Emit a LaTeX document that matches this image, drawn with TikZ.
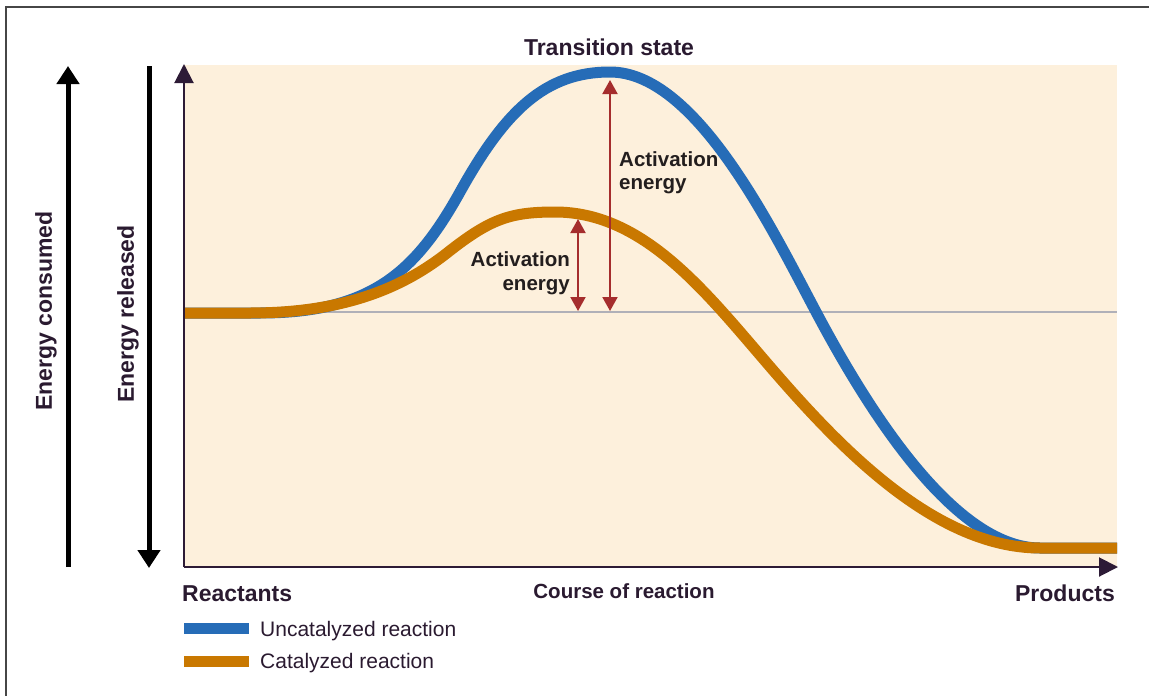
\documentclass[tikz,border=0pt]{standalone}
\usepackage{fontspec}
\setmainfont{Liberation Sans}
\usetikzlibrary{arrows.meta}
\definecolor{axispurple}{RGB}{45,27,54}
\definecolor{curveblue}{RGB}{38,108,183}
\definecolor{curveorange}{RGB}{201,120,0}
\definecolor{beige}{RGB}{253,240,220}
\definecolor{arrowred}{RGB}{165,45,45}
\definecolor{textdark}{RGB}{42,26,48}
\definecolor{actdark}{RGB}{35,30,30}
\definecolor{framegrey}{RGB}{70,70,70}
\definecolor{basegrey}{RGB}{176,176,184}
\tikzset{
  axisline/.style={draw=axispurple, line width=2pt, -{Triangle[length=19pt,width=19pt]}},
  bigarrow/.style={draw=black, line width=5pt, -{Triangle[length=18pt,width=22pt]}},
  actarrow/.style={draw=arrowred, line width=2pt, {Triangle[length=14pt,width=15pt]}-{Triangle[length=14pt,width=15pt]}},
  curve/.style={line width=11pt, line cap=butt, line join=round},
  bigbold/.style={font=\fontsize{23}{27}\selectfont\bfseries, text=textdark, inner sep=0pt},
  actlabel/.style={font=\fontsize{20.5}{23.5}\selectfont\bfseries, text=actdark, inner sep=0pt},
  legtext/.style={font=\fontsize{21}{25}\selectfont, text=textdark, inner sep=0pt},
  legbar/.style={line width=11pt}
}
\begin{document}
\begin{tikzpicture}[x=1pt,y=-1pt]
\useasboundingbox (0,0) rectangle (1149,696);
% frame
\draw[framegrey, line width=1.5pt] (6,696) -- (6,7) -- (1149,7);
% background
\fill[beige] (184,65) rectangle (1117,567);
% baseline
\draw[basegrey, line width=2pt] (184,312) -- (1117,312);
% curves
\draw[curve, curveblue] (184,313) -- (260,313)
  .. controls (370,313) and (415,273) .. (460,192)
  .. controls (505,111) and (545,72) .. (610,72)
  .. controls (695,72) and (770,225) .. (815,310)
  .. controls (860,395) and (950,548) .. (1040,548) -- (1117,548);
\draw[curve, curveorange] (184,313) -- (250,313)
  .. controls (340,313) and (400,290) .. (447,253)
  .. controls (490,219) and (510,212) .. (555,212)
  .. controls (640,212) and (700,285) .. (760,355)
  .. controls (830,437) and (930,548) .. (1040,548) -- (1117,548);
% axes
\coordinate (origin) at (184,567);
\coordinate (ytip) at (184,64);
\coordinate (xtip) at (1118,567);
\draw[axisline] (origin) -- (ytip);
\draw[axisline] (origin) -- (xtip);
% energy arrows
\coordinate (consB) at (68,567);
\coordinate (consT) at (68,66);
\coordinate (relT) at (149,66);
\coordinate (relB) at (149,568);
\draw[bigarrow] (consB) -- (consT);
\draw[bigarrow] (relT) -- (relB);
\node[bigbold, rotate=90] (cons) at (46,311) {Energy consumed};
\node[bigbold, rotate=90] (rel) at (128,314) {Energy released};
% activation arrows
\coordinate (a1t) at (610,80);
\coordinate (a1b) at (610,311);
\coordinate (a2t) at (578,219);
\coordinate (a2b) at (578,311);
\draw[actarrow] (a1t) -- (a1b);
\draw[actarrow] (a2t) -- (a2b);
\node[actlabel, anchor=base west, align=left] (act1) at (619,189.5) {Activation\\energy};
\node[actlabel, anchor=base east, align=right] (act2) at (570,290) {Activation\\energy};
% titles
\node[bigbold, anchor=base] (ts) at (609,55) {Transition state};
\node[bigbold, anchor=base west] (reac) at (182,601) {Reactants};
\node[bigbold, anchor=base east] (prod) at (1115,601) {Products};
\node[bigbold, anchor=base, font=\fontsize{20.5}{24}\selectfont\bfseries] (course) at (624,598) {Course of reaction};
% legend
\draw[legbar, curveblue] (184,628.5) -- (249,628.5);
\draw[legbar, curveorange] (184,661) -- (249,661);
\node[legtext, anchor=base west] (leg1) at (260,636) {Uncatalyzed reaction};
\node[legtext, anchor=base west] (leg2) at (260,668) {Catalyzed reaction};
\end{tikzpicture}
\end{document}
